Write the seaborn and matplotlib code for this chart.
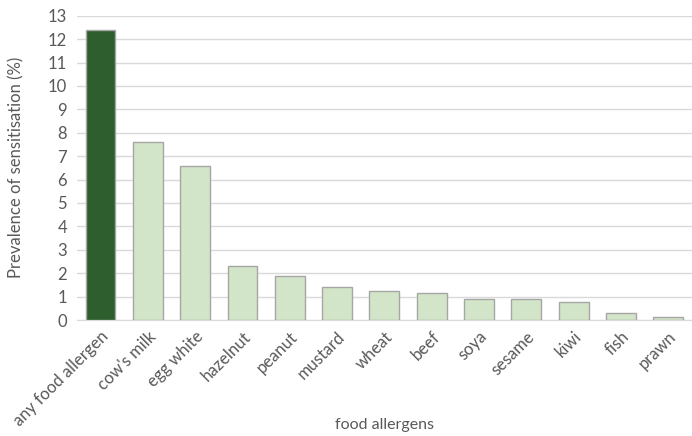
import pandas as pd
import numpy as np
import matplotlib
matplotlib.use("Agg")
import matplotlib.pyplot as plt
import seaborn as sns

# values
allergens = ["any food allergen", "cow's milk", "egg white", "hazelnut", "peanut", "mustard",
             "wheat", "beef", "soya", "sesame", "kiwi", "fish", "prawn"]
prevalence = [12.4, 7.6, 6.6, 2.3, 1.9, 1.4, 1.25, 1.15, 0.9, 0.9, 0.75, 0.3, 0.15]

df = pd.DataFrame({"allergen": allergens, "prevalence": prevalence})
palette = ["#2e5e2e"] + ["#d3e5c8"] * (len(allergens) - 1)

sns.set_style("white")
plt.rcParams['font.family'] = ['Lato', 'DejaVu Sans']
text_col = "#595959"

fig = plt.figure(figsize=(6.92, 4.36), dpi=100)
ax = fig.add_axes([0.111, 0.266, 0.889, 0.698])

sns.barplot(data=df, x="allergen", y="prevalence", hue="allergen", palette=palette,
            legend=False, width=0.63, edgecolor="#a6a6a6", linewidth=1, ax=ax, saturation=1)

ax.set_ylim(0, 13)
ax.set_xlim(-0.5, len(allergens) - 0.5)
ax.set_yticks(range(0, 14))
ax.yaxis.grid(True, color="#d9d9d9", linewidth=1)
ax.set_axisbelow(True)
for s in ["top", "right", "left"]:
    ax.spines[s].set_visible(False)
ax.spines["bottom"].set_color("#d9d9d9")
ax.spines["bottom"].set_zorder(0)

# Excel-style tick marks between categories
ax.set_xticks(np.arange(-0.5, len(allergens), 1), minor=True)
ax.tick_params(axis="x", which="minor", length=5, color="#d9d9d9", width=1)
ax.tick_params(axis="x", which="major", length=0, pad=6)
ax.tick_params(axis="y", length=0, pad=7)
ax.set_xticks(range(len(allergens)))
ax.set_xticklabels(allergens, rotation=45, ha="right", rotation_mode="anchor",
                   fontsize=12, color=text_col)
for lab in ax.get_yticklabels():
    lab.set_fontsize(12)
    lab.set_color(text_col)

ax.set_xlabel("food allergens", fontsize=11.5, color=text_col)
ax.xaxis.set_label_coords(0.5, -0.322)
ax.set_ylabel("Prevalence of sensitisation (%)", fontsize=12, color=text_col)
ax.yaxis.set_label_coords(-0.085, 0.5)

fig.savefig("out.png", dpi=100)
